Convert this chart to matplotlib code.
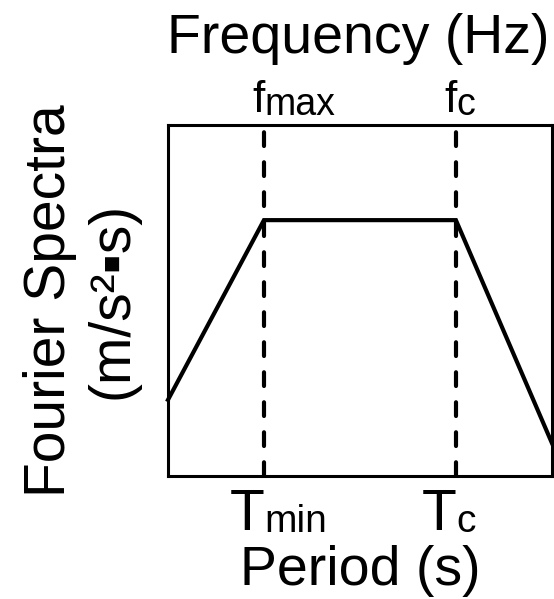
import matplotlib.pyplot as plt

plt.rcParams['font.family'] = ['Liberation Sans', 'DejaVu Sans']

# idealised spectrum shape: ramp up, plateau between Tmin and Tc, ramp down
period = [0, 2.5, 7.5, 10]
spectra = [2.17, 7.29, 7.29, 0.94]

corner_periods = [2.5, 7.5]
period_base = ['T', 'T']
period_sub = ['min', 'c']
freq_base = ['f', 'f']
freq_sub = ['max', 'c']

fig = plt.figure(figsize=(5.54, 5.99), dpi=100)
ax = fig.add_axes([0.3032, 0.2053, 0.693, 0.586])

ax.plot(period, spectra, color='black', lw=3, solid_joinstyle='miter', clip_on=False)
for p in corner_periods:
    ax.axvline(p, color='black', lw=3, ls=(0, (3.3, 3.9)), dash_capstyle='round')

ax.set_xlim(0, 10)
ax.set_ylim(0, 10)
ax.set_xticks([])
ax.set_yticks([])

# corner labels: letter ends at the dashed line, subscript starts right after it
for p, b, s in zip(corner_periods, period_base, period_sub):
    ax.annotate(b, xy=(p, 0), xycoords=('data', 'axes fraction'), xytext=(0.5, -38.9),
                textcoords='offset points', ha='right', va='baseline', fontsize=41)
    ax.annotate(s, xy=(p, 0), xycoords=('data', 'axes fraction'), xytext=(0.5, -40.3),
                textcoords='offset points', ha='left', va='baseline', fontsize=28)
for p, b, s in zip(corner_periods, freq_base, freq_sub):
    ax.annotate(b, xy=(p, 1), xycoords=('data', 'axes fraction'), xytext=(0.5, 9.4),
                textcoords='offset points', ha='right', va='baseline', fontsize=32)
    ax.annotate(s, xy=(p, 1), xycoords=('data', 'axes fraction'), xytext=(0.5, 7.4),
                textcoords='offset points', ha='left', va='baseline', fontsize=27)

ax.set_xlabel('Period (s)', fontsize=40, va='baseline')
ax.xaxis.set_label_coords(0.5, -0.3105)
ax.set_ylabel('Fourier Spectra\n(m/s²▪s)', fontsize=41, linespacing=1.2)
ax.yaxis.set_label_coords(-0.075, 0.5)
ax.set_title('Frequency (Hz)', fontsize=40, va='baseline', x=0.495, y=1.18)

for s in ax.spines.values():
    s.set_linewidth(2.2)

fig.savefig('out.png', dpi=100)
